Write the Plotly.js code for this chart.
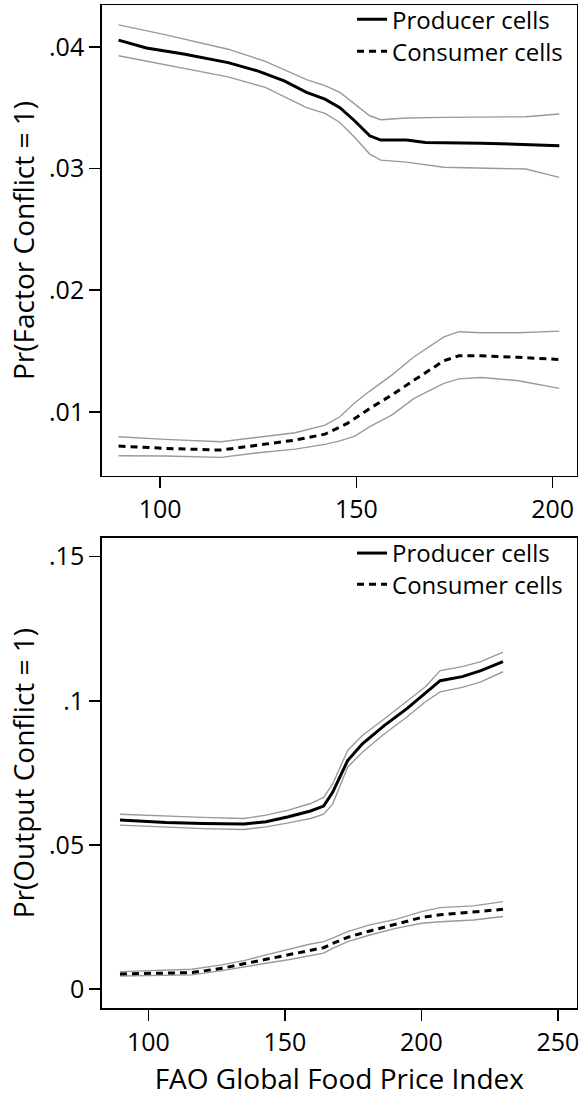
<!DOCTYPE html>
<html>
<head>
<meta charset="utf-8">
<script src="https://cdn.plot.ly/plotly-3.0.1.min.js"></script>
<style>html,body{margin:0;padding:0;background:#fff;}#chart{width:579px;height:1097px;}</style>
</head>
<body>
<div id="chart"></div>
<script>
// ---------- Top panel: Factor conflict ----------
const topProdX   = [89.4, 96.5, 106, 117.3, 125, 131.6, 137.3, 142, 145.8, 149.6, 153.4, 156.2, 162.8, 167.6, 181.8, 191.3, 201.7];
const topProdY   = [0.04055, 0.0399, 0.0394, 0.0387, 0.0380, 0.0372, 0.03625, 0.0357, 0.0350, 0.0339, 0.03268, 0.03233, 0.03233, 0.03214, 0.03208, 0.0320, 0.03186];
const topProdCIX = [89.4, 101.2, 117.3, 126.8, 137.3, 142, 145.8, 149.6, 153.4, 156.2, 162.8, 172.3, 186.5, 193.2, 201.7];
const topProdHi  = [0.0418, 0.0410, 0.0398, 0.0388, 0.0373, 0.0368, 0.03625, 0.0353, 0.03433, 0.0340, 0.03414, 0.0342, 0.0342, 0.03425, 0.03447];
const topProdLo  = [0.03926, 0.03852, 0.03753, 0.03666, 0.0350, 0.03452, 0.03378, 0.03255, 0.03118, 0.03068, 0.03052, 0.0301, 0.03003, 0.02995, 0.02926];

const topConsX   = [89.4, 101.2, 115.5, 125, 134.4, 142, 147.7, 153.4, 159, 164.7, 172.3, 176.1, 181.8, 191.3, 201.7];
const topConsY   = [0.00718, 0.00699, 0.00685, 0.00726, 0.00767, 0.00816, 0.00904, 0.01027, 0.01137, 0.0126, 0.01419, 0.0146, 0.0146, 0.01447, 0.0143];
const topConsCIX = [89.4, 101.2, 115.5, 125, 134.4, 142, 145.8, 149.6, 153.4, 159, 164.7, 172.3, 176.1, 181.8, 191.3, 201.7];
const topConsHi  = [0.00795, 0.00773, 0.00753, 0.00789, 0.00827, 0.0089, 0.00959, 0.01074, 0.0117, 0.01301, 0.01452, 0.01616, 0.01658, 0.01649, 0.01649, 0.01663];
const topConsLo  = [0.00638, 0.00636, 0.00625, 0.00663, 0.00693, 0.00732, 0.00760, 0.00800, 0.00877, 0.00973, 0.0111, 0.01233, 0.01270, 0.01282, 0.01255, 0.01192];

// ---------- Bottom panel: Output conflict ----------
const botX       = [89.6, 106.5, 120, 135, 143.1, 151.3, 159.4, 164.2, 167.5, 173, 178.4, 186.5, 194.7, 201.5, 206.9, 215, 221.8, 229.9];
const botProdY   = [0.0587, 0.05785, 0.0575, 0.0573, 0.0581, 0.0598, 0.0618, 0.0635, 0.0683, 0.0793, 0.0851, 0.0915, 0.0973, 0.1026, 0.1070, 0.1084, 0.1105, 0.1136];
const botProdHi  = [0.0607, 0.0600, 0.0596, 0.0592, 0.0604, 0.0621, 0.0644, 0.0665, 0.0712, 0.0828, 0.0880, 0.0938, 0.0997, 0.1049, 0.1105, 0.1119, 0.1136, 0.1169];
const botProdLo  = [0.0569, 0.0561, 0.0557, 0.0554, 0.0563, 0.0577, 0.0592, 0.0607, 0.0642, 0.0770, 0.0822, 0.0886, 0.0944, 0.0997, 0.1031, 0.1047, 0.1066, 0.1101];

const botConsX   = [89.6, 106.5, 116, 126.9, 135, 143.1, 151.3, 159.4, 164.2, 167.5, 173, 181.1, 190.6, 200.1, 206.9, 219.1, 229.9];
const botConsY   = [0.0053, 0.00554, 0.00577, 0.00727, 0.00878, 0.0104, 0.0119, 0.0134, 0.0144, 0.0159, 0.0180, 0.0202, 0.0225, 0.0249, 0.0258, 0.0267, 0.0277];
const botConsHi  = [0.0061, 0.00647, 0.00693, 0.00843, 0.00993, 0.0119, 0.0139, 0.0157, 0.0165, 0.0177, 0.0200, 0.0223, 0.0242, 0.0269, 0.0283, 0.0289, 0.0304];
const botConsLo  = [0.0046, 0.00473, 0.00497, 0.00647, 0.00785, 0.0090, 0.0102, 0.0115, 0.0125, 0.0142, 0.0165, 0.0188, 0.0211, 0.0229, 0.0234, 0.0240, 0.0252];

// ---------- Ticks & labels ----------
const topXTicks = [100, 150, 200];
const botXTicks = [100, 150, 200, 250];
const topYTicks = [0.01, 0.02, 0.03, 0.04];
const topYText  = ['.01', '.02', '.03', '.04'];
const botYTicks = [0, 0.05, 0.1, 0.15];
const botYText  = ['0', '.05', '.1', '.15'];
const seriesNames = ['Producer cells', 'Consumer cells'];
const topYTitle = 'Pr(Factor Conflict = 1)';
const botYTitle = 'Pr(Output Conflict = 1)';
const xTitle = 'FAO Global Food Price Index';

const FONT = 'Open Sans, Noto Sans, sans-serif';
const ciLine = {color: '#9a9a9a', width: 1.4};
const meanSolid = {color: '#000', width: 3};
const meanDash = {color: '#000', width: 3, dash: '7px,5px'};

function ci(x, y, xa, ya) {
  return {x: x, y: y, xaxis: xa, yaxis: ya, mode: 'lines', line: ciLine, showlegend: false, hoverinfo: 'skip'};
}

const traces = [
  ci(topProdCIX, topProdHi, 'x', 'y'),
  ci(topProdCIX, topProdLo, 'x', 'y'),
  ci(topConsCIX, topConsHi, 'x', 'y'),
  ci(topConsCIX, topConsLo, 'x', 'y'),
  {x: topProdX, y: topProdY, xaxis: 'x', yaxis: 'y', mode: 'lines', line: meanSolid, name: seriesNames[0], legend: 'legend'},
  {x: topConsX, y: topConsY, xaxis: 'x', yaxis: 'y', mode: 'lines', line: meanDash, name: seriesNames[1], legend: 'legend2'},
  ci(botX, botProdHi, 'x2', 'y2'),
  ci(botX, botProdLo, 'x2', 'y2'),
  ci(botConsX, botConsHi, 'x2', 'y2'),
  ci(botConsX, botConsLo, 'x2', 'y2'),
  {x: botX, y: botProdY, xaxis: 'x2', yaxis: 'y2', mode: 'lines', line: meanSolid, name: seriesNames[0], legend: 'legend3'},
  {x: botConsX, y: botConsY, xaxis: 'x2', yaxis: 'y2', mode: 'lines', line: meanDash, name: seriesNames[1], legend: 'legend4'}
];

const axBase = {
  showline: true, linecolor: '#000', linewidth: 1.5, mirror: true,
  ticks: 'outside', ticklen: 11, tickwidth: 1.5, tickcolor: '#000',
  showgrid: false, zeroline: false, tickmode: 'array', ticklabeloverflow: 'allow',
  tickfont: {family: FONT, size: 25, color: '#000'}
};
const titleFont = {family: FONT, size: 28, color: '#000'};

const legBase = {
  font: {family: FONT, size: 24, color: '#000'},
  bgcolor: 'rgba(0,0,0,0)', borderwidth: 0,
  xanchor: 'left', yanchor: 'top', tracegroupgap: 0, itemwidth: 30
};

const layout = {
  width: 579, height: 1097,
  margin: {l: 0, r: 0, t: 0, b: 0, autoexpand: false},
  paper_bgcolor: '#fff', plot_bgcolor: '#fff',
  font: {family: FONT, color: '#000'},
  xaxis: Object.assign({}, axBase, {domain: [0.1756, 0.9965], range: [85.1, 206.2], tickvals: topXTicks, anchor: 'y'}),
  yaxis: Object.assign({}, axBase, {domain: [0.5661, 0.9954], range: [0.00472, 0.04343], tickvals: topYTicks, ticktext: topYText, anchor: 'x',
    title: {text: topYTitle, font: titleFont, standoff: 6}}),
  xaxis2: Object.assign({}, axBase, {domain: [0.1756, 0.9965], range: [82.9, 257.0], tickvals: botXTicks, anchor: 'y2',
    title: {text: xTitle, font: titleFont, standoff: 12}}),
  yaxis2: Object.assign({}, axBase, {domain: [0.0809, 0.5096], range: [-0.0066, 0.1565], tickvals: botYTicks, ticktext: botYText, anchor: 'x2',
    title: {text: botYTitle, font: titleFont, standoff: 6}}),
  legend:  Object.assign({}, legBase, {x: 0.608, y: 1.0025}),
  legend2: Object.assign({}, legBase, {x: 0.608, y: 0.9735}),
  legend3: Object.assign({}, legBase, {x: 0.608, y: 0.5160}),
  legend4: Object.assign({}, legBase, {x: 0.608, y: 0.4875}),
  showlegend: true
};

Plotly.newPlot('chart', traces, layout, {staticPlot: true, displayModeBar: false});
</script>
</body>
</html>
